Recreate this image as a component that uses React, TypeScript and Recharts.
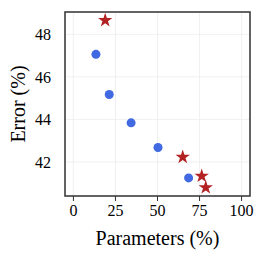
import {
  CartesianGrid,
  ReferenceArea,
  Scatter,
  ScatterChart,
  XAxis,
  YAxis,
  ZAxis,
} from 'recharts';

const denseParams = [13.4, 21.3, 34.3, 50.3, 68.5];
const denseError = [47.06, 45.17, 43.84, 42.68, 41.25];
const prunedParams = [18.9, 65.0, 76.3, 78.7];
const prunedError = [48.66, 42.23, 41.34, 40.8];
const xTicks = [0, 25, 50, 75, 100];
const yTicks = [42, 44, 46, 48];

const dense = denseParams.map((x, i) => ({ x, y: denseError[i] }));
const pruned = prunedParams.map((x, i) => ({ x, y: prunedError[i] }));

const font = '"Liberation Serif", "Times New Roman", serif';
const tickStyle = { fontSize: 16, fill: '#000', fontFamily: font };
const labelStyle = { fontSize: 20, fill: '#000', fontFamily: font };

const App = () => {
  return (
    <div style={{ position: 'fixed', left: 0, top: 0, background: '#fff', fontFamily: font }}>
      <ScatterChart
        width={266}
        height={260}
        margin={{ top: 12, right: 16, bottom: 0, left: 0 }}
        style={{ fontFamily: font }}
      >
        <CartesianGrid stroke="#ececec" strokeWidth={0.8} />
        <XAxis
          type="number"
          dataKey="x"
          domain={[-5, 105]}
          ticks={xTicks}
          height={64}
          tickSize={5}
          tickMargin={4}
          axisLine={false}
          tickLine={{ stroke: '#333' }}
          tick={tickStyle}
          label={{ value: 'Parameters (%)', position: 'insideBottom', offset: 15, style: labelStyle }}
        />
        <YAxis
          type="number"
          dataKey="y"
          domain={[40.4, 49.05]}
          ticks={yTicks}
          width={65}
          tickSize={12}
          tickMargin={2}
          axisLine={false}
          tickLine={false}
          tick={tickStyle}
          label={{ value: 'Error (%)', angle: -90, position: 'insideLeft', offset: 18, style: { ...labelStyle, textAnchor: 'middle' } }}
        />
        <ZAxis zAxisId="dot" range={[113, 113]} />
        <ZAxis zAxisId="star" range={[55, 55]} />
        <ReferenceArea x1={-5} x2={105} y1={40.4} y2={49.05} fill="none" stroke="#333" strokeWidth={1.5} />
        <Scatter data={dense} zAxisId="dot" fill="#4169e1" shape="circle" isAnimationActive={false} />
        <Scatter data={pruned} zAxisId="star" fill="#b22222" shape="star" isAnimationActive={false} />
      </ScatterChart>
    </div>
  );
};

export default App;
